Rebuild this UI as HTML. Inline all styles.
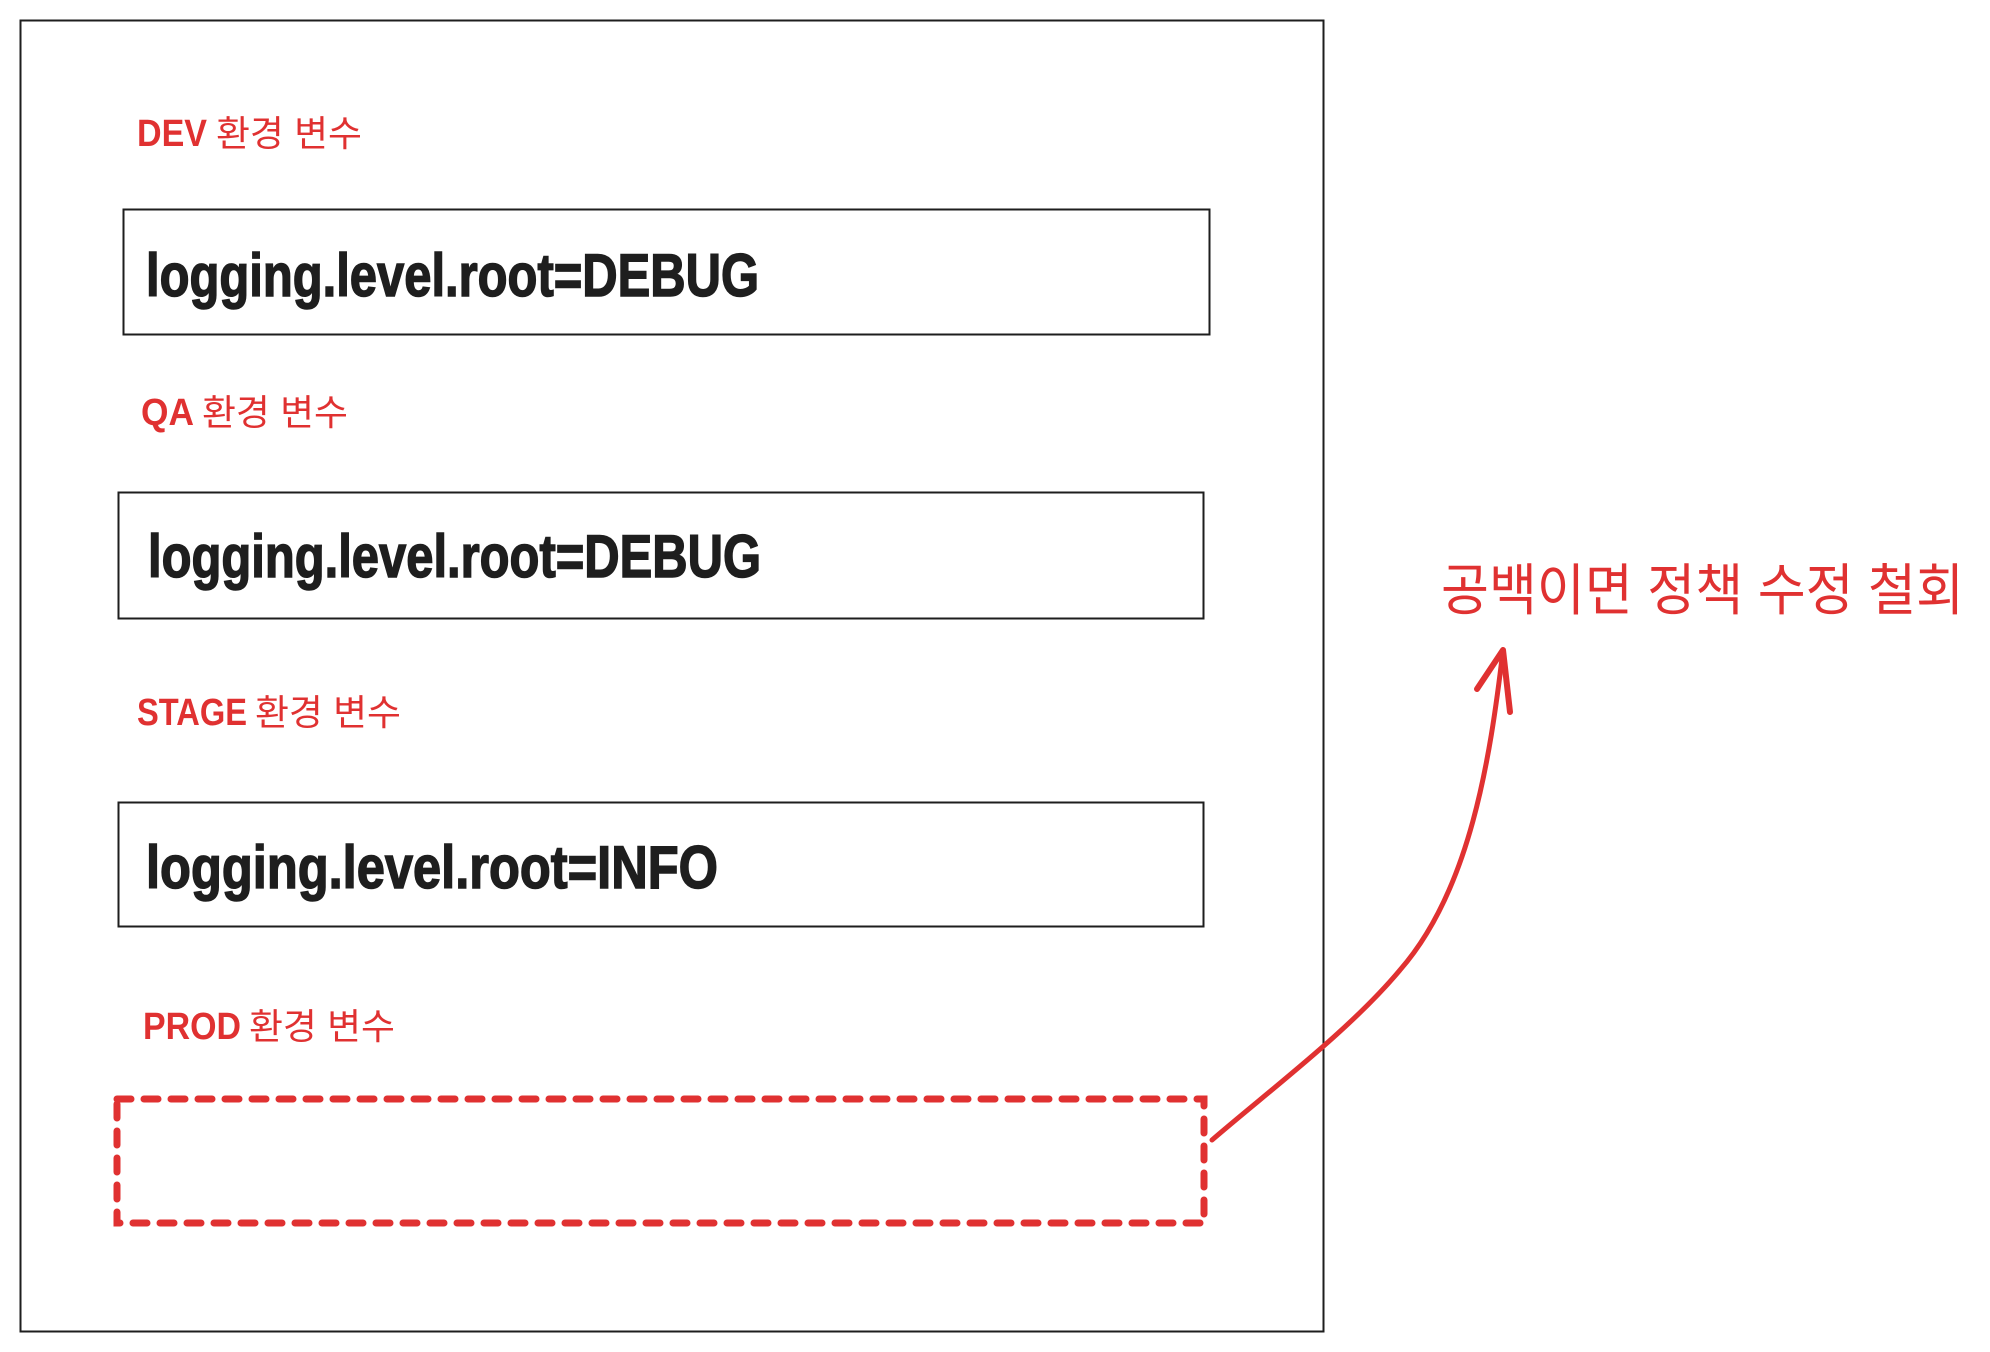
<!DOCTYPE html>
<html><head><meta charset="utf-8"><style>
html,body{margin:0;padding:0;background:#fff;}
svg{display:block;}
.lab{font-family:"Liberation Sans","Noto Sans CJK KR",sans-serif;fill:#e03131;}
.code{font-family:"Liberation Sans",sans-serif;font-weight:bold;fill:#1e1e1e;stroke:#1e1e1e;stroke-width:1.5;}
</style></head><body>
<svg width="1990" height="1352" viewBox="0 0 1990 1352" xmlns="http://www.w3.org/2000/svg">
<rect x="0" y="0" width="1990" height="1352" fill="#fff"/>
<rect x="20.5" y="20.5" width="1303" height="1311" fill="none" stroke="#1e1e1e" stroke-width="2"/>

<text class="lab" x="137" y="146" font-size="38" font-weight="bold" textLength="70" lengthAdjust="spacingAndGlyphs">DEV</text>
<text class="lab" x="216" y="146" font-size="36" textLength="146" lengthAdjust="spacingAndGlyphs">환경 변수</text>
<rect x="123.5" y="209.5" width="1086" height="125" fill="none" stroke="#1e1e1e" stroke-width="2"/>
<text class="code" x="146" y="296" font-size="60" textLength="613" lengthAdjust="spacingAndGlyphs">logging.level.root=DEBUG</text>

<text class="lab" x="141" y="425" font-size="38" font-weight="bold" textLength="53" lengthAdjust="spacingAndGlyphs">QA</text>
<text class="lab" x="202" y="425" font-size="36" textLength="146" lengthAdjust="spacingAndGlyphs">환경 변수</text>
<rect x="118.5" y="492.5" width="1085" height="126" fill="none" stroke="#1e1e1e" stroke-width="2"/>
<text class="code" x="148" y="577" font-size="60" textLength="613" lengthAdjust="spacingAndGlyphs">logging.level.root=DEBUG</text>

<text class="lab" x="137" y="725" font-size="38" font-weight="bold" textLength="110" lengthAdjust="spacingAndGlyphs">STAGE</text>
<text class="lab" x="255" y="725" font-size="36" textLength="146" lengthAdjust="spacingAndGlyphs">환경 변수</text>
<rect x="118.5" y="802.5" width="1085" height="124" fill="none" stroke="#1e1e1e" stroke-width="2"/>
<text class="code" x="146" y="888" font-size="60" textLength="572" lengthAdjust="spacingAndGlyphs">logging.level.root=INFO</text>

<text class="lab" x="143" y="1039" font-size="38" font-weight="bold" textLength="98" lengthAdjust="spacingAndGlyphs">PROD</text>
<text class="lab" x="249" y="1039" font-size="36" textLength="146" lengthAdjust="spacingAndGlyphs">환경 변수</text>
<rect x="117" y="1099" width="1087" height="124" fill="none" stroke="#e03131" stroke-width="7" stroke-dasharray="14 13" stroke-linecap="round"/>

<path d="M1212 1140 C1270 1090 1350 1030 1400 970 C1470 890 1490 760 1503 650" fill="none" stroke="#e03131" stroke-width="5" stroke-linecap="round"/>
<path d="M1477 689 L1503 650 L1510 712" fill="none" stroke="#e03131" stroke-width="6" stroke-linecap="round" stroke-linejoin="round"/>

<text class="lab" x="1441" y="610" font-size="56" textLength="523" lengthAdjust="spacingAndGlyphs">공백이면  정책 수정 철회</text>
</svg>
</body></html>
